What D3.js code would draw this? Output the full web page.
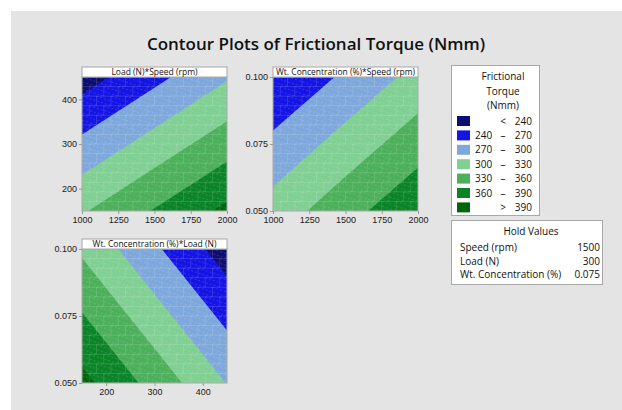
<!DOCTYPE html>
<html>
<head>
<meta charset="utf-8">
<script src="https://cdn.jsdelivr.net/npm/d3@7"></script>
<style>
  body { margin: 0; background: #fff; }
  svg { display: block; font-family: "Open Sans", "Noto Sans", sans-serif; }
  .tick line { stroke: #9a9a9a; }
  .tick text { fill: #1a1a1a; font-size: 9px; }
  .mesh line { stroke: #fff; stroke-opacity: 0.2; stroke-width: 0.7; }
</style>
</head>
<body>
<svg id="chart" width="622" height="410"></svg>
<script>
// contour levels and colours
const thresholds = [240, 270, 300, 330, 360, 390];
const bandColors = ["#0d0d72", "#1414e4", "#7ea8dc", "#80cf93", "#4caf5a", "#0b8428", "#00660a"];
const legendLow = ["", "240", "270", "300", "330", "360", ""];
const legendSign = ["<", "–", "–", "–", "–", "–", ">"];
const legendHigh = ["240", "270", "300", "330", "360", "390", "390"];

// hold values
const holdNames = ["Speed (rpm)", "Load (N)", "Wt. Concentration (%)"];
const holdValues = ["1500", "300", "0.075"];

// factor grids
const speedGrid = [1000, 1500, 2000];
const loadGrid = [150, 300, 450];
const wtGrid = [0.050, 0.075, 0.100];

// torque, rows = y level (low to high), cols = x level
const torqueLoadSpeed = [
  [327, 362, 397],
  [277, 312, 347],
  [227, 262, 297]
];
const torqueWtSpeed = [
  [313, 349, 384],
  [277, 312, 347],
  [242, 275, 310]
];
const torqueWtLoad = [
  [399, 349, 299],
  [362, 312, 262],
  [325, 275, 225]
];

const panels = [
  { title: "Load (N)*Speed (rpm)", x: 82, y: 67, xs: speedGrid, ys: loadGrid, z: torqueLoadSpeed,
    xTicks: [1000, 1250, 1500, 1750, 2000], yTicks: [200, 300, 400], yFmt: d3.format("d") },
  { title: "Wt. Concentration (%)*Speed (rpm)", x: 273, y: 67, xs: speedGrid, ys: wtGrid, z: torqueWtSpeed,
    xTicks: [1000, 1250, 1500, 1750, 2000], yTicks: [0.050, 0.075, 0.100], yFmt: d3.format(".3f") },
  { title: "Wt. Concentration (%)*Load (N)", x: 82, y: 239, xs: loadGrid, ys: wtGrid, z: torqueWtLoad,
    xTicks: [200, 300, 400], yTicks: [0.050, 0.075, 0.100], yFmt: d3.format(".3f") }
];

const W = 145, H = 134, stripH = 10;

const svg = d3.select("#chart");

svg.append("rect")
  .attr("x", 11).attr("y", 11)
  .attr("width", 611).attr("height", 399)
  .attr("fill", "#e4e4e4");

svg.append("text")
  .attr("x", 316).attr("y", 50)
  .attr("text-anchor", "middle")
  .style("font-size", "17px")
  .style("font-weight", 600)
  .attr("fill", "#111")
  .text("Contour Plots of Frictional Torque (Nmm)");

panels.forEach((p, k) => {
  const g = svg.append("g").attr("transform", "translate(" + p.x + "," + p.y + ")");
  const top = stripH;

  const xScale = d3.scaleLinear().domain(d3.extent(p.xs)).range([0, W]);
  const yScale = d3.scaleLinear().domain(d3.extent(p.ys)).range([top + H, top]);

  // grid units from d3.contours -> data values
  const nx = p.xs.length, ny = p.ys.length;
  const gx = d3.scaleLinear().domain([0.5, nx - 0.5]).range(d3.extent(p.xs));
  const gy = d3.scaleLinear().domain([0.5, ny - 0.5]).range(d3.extent(p.ys));
  const proj = d3.geoTransform({
    point: function (x, y) { this.stream.point(xScale(gx(x)), yScale(gy(y))); }
  });
  const path = d3.geoPath(proj);

  const values = p.z.flat();
  const contours = d3.contours().size([nx, ny]);

  g.append("clipPath").attr("id", "clip" + k)
    .append("rect").attr("x", 0).attr("y", top).attr("width", W).attr("height", H);

  const area = g.append("g").attr("clip-path", "url(#clip" + k + ")");
  area.append("rect")
    .attr("x", 0).attr("y", top).attr("width", W).attr("height", H)
    .attr("fill", bandColors[0]);
  area.selectAll("path.band")
    .data(thresholds)
    .enter().append("path")
    .attr("class", "band")
    .attr("d", t => path(contours.contour(values, t)))
    .attr("fill", (t, i) => bandColors[i + 1]);

  // faint triangulation seams like the original render
  const mesh = area.append("g").attr("class", "mesh");
  const rowH = H / 14, colW = W / 10;
  for (let r = 0; r <= 14; r++) {
    const y0 = top + r * rowH;
    mesh.append("line").attr("x1", 0).attr("x2", W).attr("y1", y0).attr("y2", y0);
    for (let c = -2; c <= 10; c++) {
      const x0 = c * colW + (r % 2) * colW / 2;
      mesh.append("line").attr("x1", x0).attr("x2", x0).attr("y1", y0).attr("y2", y0 + rowH);
      mesh.append("line").attr("x1", x0).attr("x2", x0 + 2 * colW)
        .attr("y1", y0).attr("y2", y0 + rowH)
        .attr("stroke-dasharray", "2,2");
    }
  }

  g.append("rect")
    .attr("x", 0).attr("y", top).attr("width", W).attr("height", H)
    .attr("fill", "none").attr("stroke", "#a8a8a8");

  // title strip
  g.append("rect")
    .attr("x", 0).attr("y", 0).attr("width", W).attr("height", stripH)
    .attr("fill", "#fff").attr("stroke", "#a8a8a8");
  g.append("text")
    .attr("x", W / 2).attr("y", 8)
    .attr("text-anchor", "middle")
    .style("font-size", "8.5px")
    .attr("fill", "#111")
    .text(p.title);

  const xAxis = d3.axisBottom(xScale).tickValues(p.xTicks).tickSize(3).tickPadding(3).tickFormat(d3.format("d"));
  const yAxis = d3.axisLeft(yScale).tickValues(p.yTicks).tickSize(3).tickPadding(2).tickFormat(p.yFmt);
  g.append("g").attr("transform", "translate(0," + (top + H) + ")").call(xAxis)
    .call(a => a.select(".domain").remove());
  g.append("g").call(yAxis)
    .call(a => a.select(".domain").remove());
});

// legend
const leg = svg.append("g");
leg.append("rect")
  .attr("x", 451.5).attr("y", 65.5).attr("width", 88).attr("height", 150)
  .attr("fill", "#fff").attr("stroke", "#a8a8a8");
["Frictional", "Torque", "(Nmm)"].forEach((s, i) => {
  leg.append("text")
    .attr("x", 503).attr("y", 80 + i * 14.5)
    .attr("text-anchor", "middle")
    .style("font-size", "10px")
    .attr("fill", "#111")
    .text(s);
});
const rows = leg.selectAll("g.row")
  .data(bandColors)
  .enter().append("g")
  .attr("class", "row")
  .attr("transform", (d, i) => "translate(0," + (116 + i * 14.4) + ")");
rows.append("rect")
  .attr("x", 457).attr("y", 0).attr("width", 13).attr("height", 10)
  .attr("fill", d => d);
rows.append("text")
  .attr("x", 475).attr("y", 8.5)
  .style("font-size", "10px").attr("fill", "#111")
  .text((d, i) => legendLow[i]);
rows.append("text")
  .attr("x", 503).attr("y", 8.5)
  .attr("text-anchor", "middle")
  .style("font-size", "10px").attr("fill", "#111")
  .text((d, i) => legendSign[i]);
rows.append("text")
  .attr("x", 532).attr("y", 8.5)
  .attr("text-anchor", "end")
  .style("font-size", "10px").attr("fill", "#111")
  .text((d, i) => legendHigh[i]);

// hold values box
const hold = svg.append("g");
hold.append("rect")
  .attr("x", 451.5).attr("y", 220.5).attr("width", 151).attr("height", 64)
  .attr("fill", "#fff").attr("stroke", "#a8a8a8");
hold.append("text")
  .attr("x", 531).attr("y", 235)
  .attr("text-anchor", "middle")
  .style("font-size", "10px").attr("fill", "#111")
  .text("Hold Values");
holdNames.forEach((s, i) => {
  hold.append("text")
    .attr("x", 460).attr("y", 251 + i * 13.5)
    .style("font-size", "10px").attr("fill", "#111")
    .text(s);
  hold.append("text")
    .attr("x", 600).attr("y", 251 + i * 13.5)
    .attr("text-anchor", "end")
    .style("font-size", "10px").attr("fill", "#111")
    .text(holdValues[i]);
});
</script>
</body>
</html>
